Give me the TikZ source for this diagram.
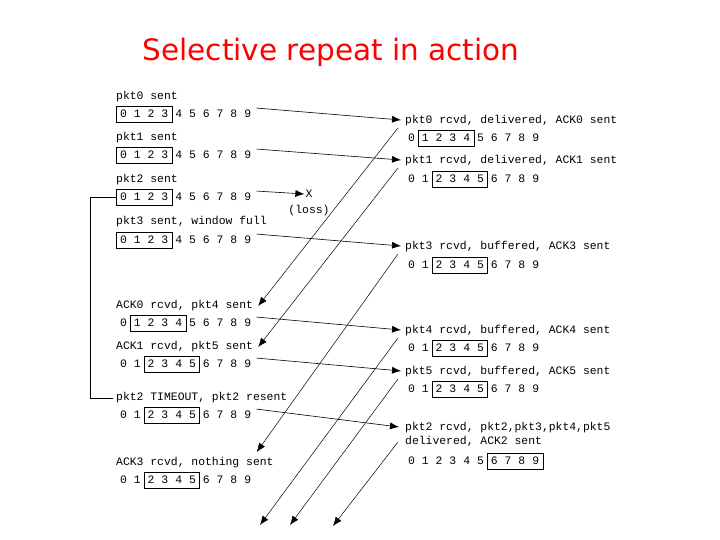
\documentclass[tikz,border=0pt]{standalone}
\usepackage{fontspec}
\usepackage{tikz}
\usetikzlibrary{positioning, arrows.meta, fit}
\newfontfamily\monofont{Liberation Mono}
\newfontfamily\titlefont{DejaVu Sans}

\begin{document}
\begin{tikzpicture}[x=1bp, y=-1bp,
        every node/.style={font=\monofont\fontsize{11.4bp}{14bp}\selectfont, inner sep=0pt},
        lbl/.style={anchor=west, text height=7.5bp, text depth=2bp},
        digit/.style={text height=7.5bp, text depth=0pt},
        winbox/.style={draw, line width=0.6bp, inner xsep=3.5bp, inner ysep=4bp},
        pktline/.style={-{Latex[length=9bp, width=7bp]}, line width=0.6bp},
        ackline/.style={-{Latex[length=9bp, width=7bp]}, line width=0.5bp}
    ]
    \useasboundingbox (0,0) rectangle (720,540);
%
    \node[font=\titlefont\fontsize{29.5bp}{34bp}\selectfont, text=red] (title) at (331,52) {Selective repeat in action};
%
    % sender side
    \node[lbl] (sl1) at (116,97) {pkt0 sent};
    \node[lbl] (sl2) at (116,138) {pkt1 sent};
    \node[lbl] (sl3) at (116,180) {pkt2 sent};
    \node[lbl] (sl4) at (116,222) {pkt3 sent, window full};
    \node[lbl] (sl5) at (116,306) {ACK0 rcvd, pkt4 sent};
    \node[lbl] (sl6) at (116,347) {ACK1 rcvd, pkt5 sent};
    \node[lbl] (sl7) at (116,398) {pkt2 TIMEOUT, pkt2 resent};
    \node[lbl] (sl8) at (116,463) {ACK3 rcvd, nothing sent};
%
    % receiver side
    \node[lbl] (rl1) at (405,121) {pkt0 rcvd, delivered, ACK0 sent};
    \node[lbl] (rl2) at (405,161) {pkt1 rcvd, delivered, ACK1 sent};
    \node[lbl] (rl3) at (405,247) {pkt3 rcvd, buffered, ACK3 sent};
    \node[lbl] (rl4) at (405,331) {pkt4 rcvd, buffered, ACK4 sent};
    \node[lbl] (rl5) at (405,372) {pkt5 rcvd, buffered, ACK5 sent};
    \node[lbl] (rl6) at (405,428) {pkt2 rcvd, pkt2,pkt3,pkt4,pkt5};
    \node[lbl] (rl6b) at (405,442) {delivered, ACK2 sent};
%
    % sequence numbers and windows
    \foreach \row/\x/\y/\a/\b in {s1/123.5/114/0/3, s2/123.5/155/0/3, s3/123.5/197/0/3, s4/123.5/240/0/3,
            s5/123.5/323/1/4, s6/123.5/364/2/5, s7/123.5/415/2/5, s8/123.5/480/2/5,
            r1/411.5/138/1/4, r2/411.5/179/2/5, r3/411.5/265/2/5, r4/411.5/348/2/5,
            r5/411.5/389/2/5, r6/411.5/461/6/9} {
        \foreach \i in {0,...,9}
            \node[digit] (\row-\i) at (\x+\i*13.8, \y) {\i};
        \node[winbox, fit=(\row-\a) (\row-\b)] (\row-win) {};
    }
%
    \node (lossx) at (309,194) {X};
    \node (loss) at (309,211) {(loss)};
    \coordinate (ack4end) at (260,525);
    \coordinate (ack5end) at (290,525);
    \coordinate (ack2end) at (333,526);
%
    % timeout
    \draw[line width=0.6bp] (s3-win.west) -- ++(-26,0) |- ([xshift=-3bp]sl7.west);
%
    % packets
    \draw[pktline] ([xshift=5bp, yshift=2bp]s1-9.north east) -- ([xshift=-4bp, yshift=1bp]rl1.west);
    \draw[pktline] ([xshift=5bp, yshift=2bp]s2-9.north east) -- ([xshift=-4bp, yshift=1bp]rl2.west);
    \draw[pktline] ([xshift=5bp, yshift=2bp]s3-9.north east) -- ([xshift=-1bp]lossx.west);
    \draw[pktline] ([xshift=5bp, yshift=2bp]s4-9.north east) -- ([xshift=-4bp, yshift=1bp]rl3.west);
    \draw[pktline] ([xshift=5bp, yshift=2bp]s5-9.north east) -- ([xshift=-4bp, yshift=1bp]rl4.west);
    \draw[pktline] ([xshift=5bp, yshift=2bp]s6-9.north east) -- ([xshift=-4bp, yshift=1bp]rl5.west);
    \draw[pktline] ([xshift=5bp, yshift=2bp]s7-9.north east) -- ([xshift=-6bp, yshift=1bp]rl6.west);
%
    % acks
    \draw[ackline] ([xshift=-7bp, yshift=-2bp]rl1.south west) -- ([xshift=5bp]sl5.east);
    \draw[ackline] ([xshift=-7bp, yshift=-2bp]rl2.south west) -- ([xshift=5bp]sl6.east);
    \draw[ackline] ([xshift=-7bp, yshift=-2bp]rl3.south west) -- ([xshift=-17bp, yshift=6bp]sl8.north east);
    \draw[ackline] ([xshift=-7bp, yshift=-2bp]rl4.south west) -- (ack4end);
    \draw[ackline] ([xshift=-7bp, yshift=-2bp]rl5.south west) -- (ack5end);
    \draw[ackline] ([xshift=-7bp]rl6b.west) -- (ack2end);
%
\end{tikzpicture}
\end{document}
